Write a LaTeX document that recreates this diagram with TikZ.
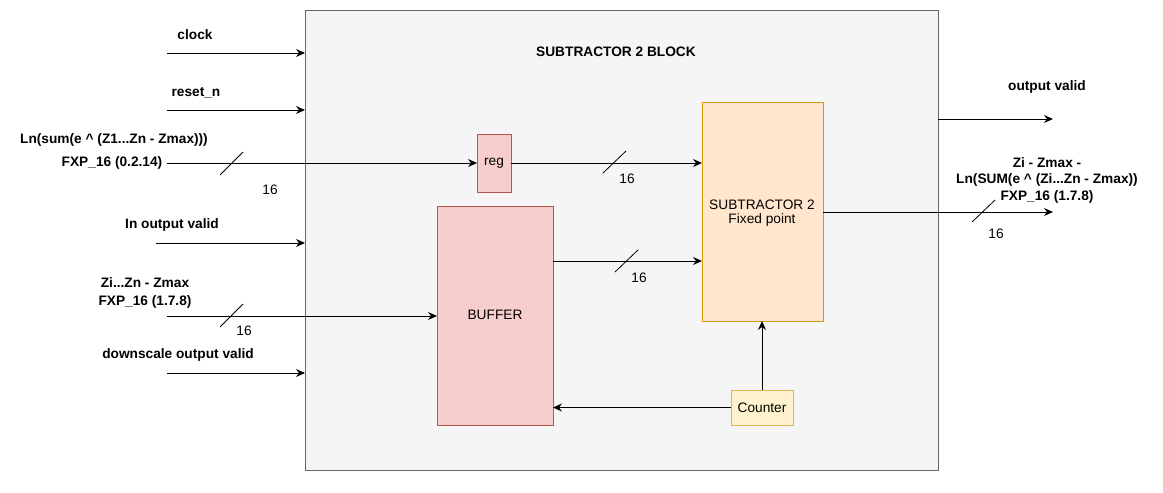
\documentclass[tikz,border=0pt]{standalone}
\usepackage{fontspec}
\setmainfont{Liberation Sans}
\usetikzlibrary{arrows.meta}
\definecolor{blkfill}{HTML}{F5F5F5}
\definecolor{blkline}{HTML}{666666}
\definecolor{redfill}{HTML}{F8CECC}
\definecolor{redline}{HTML}{B85450}
\definecolor{orfill}{HTML}{FFE6CC}
\definecolor{orline}{HTML}{D79B00}
\definecolor{yelfill}{HTML}{FFF2CC}
\definecolor{yelline}{HTML}{D6B656}
\begin{document}
\begin{tikzpicture}[x=1pt,y=-1pt,
  every node/.style={inner sep=0pt,outer sep=0pt},
  lbl/.style={font=\fontsize{13.7}{15}\selectfont\bfseries,align=center},
  num/.style={font=\fontsize{13.7}{15}\selectfont},
  txt/.style={font=\fontsize{13.7}{15}\selectfont,align=center},
  arr/.style={line width=1pt,-{Stealth[length=9pt,width=8pt,inset=3pt]}},
  bus/.style={line width=0.8pt}]
\useasboundingbox (0,0) rectangle (1163,493);
% main block
\node[draw=blkline,fill=blkfill,line width=1pt,minimum width=633pt,minimum height=460pt,anchor=north west] (blk) at (305,10) {};
\node[lbl] (title) at (616,52) {SUBTRACTOR 2 BLOCK};
% inner blocks
\node[draw=redline,fill=redfill,line width=1pt,minimum width=34pt,minimum height=58pt,anchor=north west] (reg) at (477,134) {};
\node[txt] at (reg.center) {reg};
\node[draw=redline,fill=redfill,line width=1pt,minimum width=116pt,minimum height=219pt,anchor=north west] (buf) at (437,206) {};
\node[txt] at (495,315) {BUFFER};
\node[draw=orline,fill=orfill,line width=1pt,minimum width=121pt,minimum height=219pt,anchor=north west] (sub) at (702,102) {};
\node[txt] at (762,213) {SUBTRACTOR 2\\[-1pt]Fixed point};
\node[draw=yelline,fill=yelfill,line width=1pt,minimum width=62pt,minimum height=35pt,anchor=north west] (cnt) at (731,390) {};
\node[txt] at (cnt.center) {Counter};
% input labels
\node[lbl] (lclk) at (195,35) {clock};
\node[lbl] (lrst) at (196,93) {reset\_n};
\node[lbl] (lln1) at (114,140) {Ln(sum(e \^{} (Z1...Zn - Zmax)))};
\node[lbl] (lln2) at (112,163) {FXP\_16 (0.2.14)};
\node[lbl] (liov) at (172,225) {In output valid};
\node[lbl,align=center] (lzi) at (145,293) {Zi...Zn - Zmax\\[3pt]FXP\_16 (1.7.8)};
\node[lbl] (ldov) at (178,355) {downscale output valid};
% output labels
\node[lbl] (lov) at (1047,87) {output valid};
\node[lbl,align=center] (lout) at (1047,180) {Zi - Zmax -\\[1.5pt]Ln(SUM(e \^{} (Zi...Zn - Zmax))\\[1.5pt]FXP\_16 (1.7.8)};
% coordinates
\coordinate (sclk) at (167,53);
\coordinate (srst) at (167,110);
\coordinate (sln) at (167,163);
\coordinate (siov) at (156,243);
\coordinate (szi) at (167,316);
\coordinate (sdov) at (167,373);
\coordinate (eov) at (1053,119);
\coordinate (eout) at (1053,212);
% input arrows
\draw[arr] (sclk) -- (sclk -| blk.west);
\draw[arr] (srst) -- (srst -| blk.west);
\draw[arr] (siov) -- (siov -| blk.west);
\draw[arr] (sdov) -- (sdov -| blk.west);
\draw[arr] (sln) -- (sln -| reg.west);
\draw[arr] (szi) -- (szi -| buf.west);
% internal
\draw[arr] (reg.east) -- (reg.east -| sub.west);
\draw[arr] (553,261) -- (702,261);
\draw[arr] (cnt.north) -- (cnt.north |- sub.south);
\draw[arr] (cnt.west) -- (cnt.west -| buf.east);
% outputs
\draw[arr] (eov -| blk.east) -- (eov);
\draw[arr] (eout -| sub.east) -- (eout);
% bus slashes
\draw[bus] (220,175) -- (243,152);
\node[num] at (270,190) {16};
\draw[bus] (220,327) -- (243,304);
\node[num] at (244,331) {16};
\draw[bus] (603,173) -- (626,151);
\node[num] at (627,179) {16};
\draw[bus] (615,272) -- (638,250);
\node[num] at (639,278) {16};
\draw[bus] (972,222) -- (995,200);
\node[num] at (996,234) {16};
\end{tikzpicture}
\end{document}
